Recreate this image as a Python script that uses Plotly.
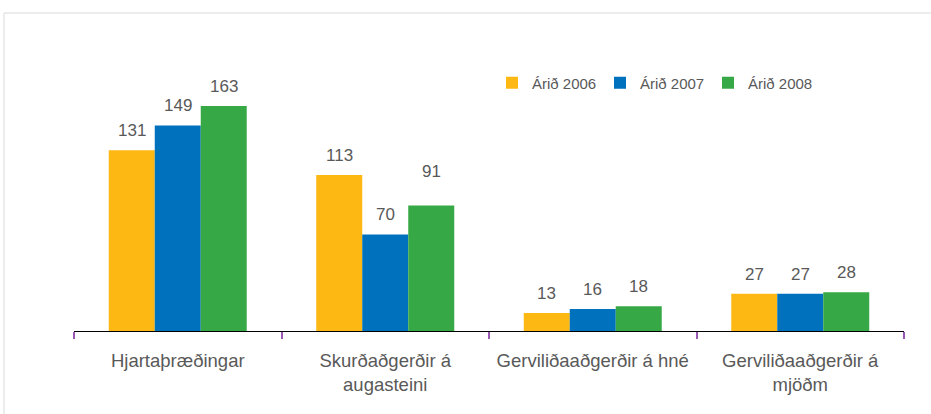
import plotly.graph_objects as go

categories = ["Hjartaþræðingar", "Skurðaðgerðir á<br>augasteini",
              "Gerviliðaaðgerðir á hné", "Gerviliðaaðgerðir á<br>mjöðm"]
series_names = ["Árið 2006", "Árið 2007", "Árið 2008"]
values_2006 = [131, 113, 13, 27]
values_2007 = [149, 70, 16, 27]
values_2008 = [163, 91, 18, 28]

colors = ["#FDB813", "#0071BC", "#37A846"]
W, H = 931, 414
ML, MR, MT, MB = 74, 27, 40, 83
PX_PER_UNIT = 1.38
TEXT = "#595959"
FONT = "Liberation Sans, Arial, sans-serif"

pw = W - ML - MR
ph = H - MT - MB
YMAX = ph / PX_PER_UNIT

fig = go.Figure()
all_vals = [values_2006, values_2007, values_2008]
for name, vals, col in zip(series_names, all_vals, colors):
    fig.add_trace(go.Bar(x=categories, y=vals, name=name, marker_color=col,
                         marker_line_width=0, offset=None))

# data labels above bars
BARGAP = 0.335
bar_px = pw / len(categories) * (1 - BARGAP) / 3
extra = {(1, 2): 14}
for si, vals in enumerate(all_vals):
    for ci, v in enumerate(vals):
        fig.add_annotation(x=categories[ci], y=v, text=str(v), showarrow=False,
                           xref="x", yref="y", yanchor="bottom",
                           xshift=(si - 1) * bar_px,
                           yshift=8 + extra.get((ci, si), 0),
                           font=dict(size=17, color=TEXT, family=FONT))

def px_x(p):
    return (p - ML) / pw
def px_y(p):
    return (H - MB - p) / ph

# light frame lines (top and left)
fig.add_shape(type="line", xref="paper", yref="paper",
              x0=px_x(4), x1=px_x(931), y0=px_y(13), y1=px_y(13),
              line=dict(color="#E6E6E6", width=1.5))
fig.add_shape(type="line", xref="paper", yref="paper",
              x0=px_x(4), x1=px_x(4), y0=px_y(13), y1=px_y(414),
              line=dict(color="#E6E6E6", width=1.5))

fig.update_layout(
    width=W, height=H,
    margin=dict(l=ML, r=MR, t=MT, b=MB),
    paper_bgcolor="white", plot_bgcolor="white",
    barmode="group", bargap=BARGAP, bargroupgap=0,
    font=dict(family=FONT, color=TEXT, size=16),
    showlegend=True,
    legend=dict(orientation="h", x=px_x(492), y=px_y(83), xanchor="left",
                yanchor="middle", font=dict(size=15, color=TEXT, family=FONT),
                entrywidth=63, entrywidthmode="pixels", itemwidth=30,
                bgcolor="rgba(0,0,0,0)"),
    xaxis=dict(showgrid=False, showline=True, linecolor="black", linewidth=1.2,
               ticks="outside", tickson="boundaries", ticklen=7,
               tickcolor="#9B59B6", tickwidth=1.5, ticklabelstandoff=13,
               tickfont=dict(size=18.5, color=TEXT, family=FONT),
               fixedrange=True),
    yaxis=dict(range=[0, YMAX], visible=False, fixedrange=True),
)

fig.write_html("out.html", config={"displayModeBar": False},
               post_script="document.body.style.margin='0';")
